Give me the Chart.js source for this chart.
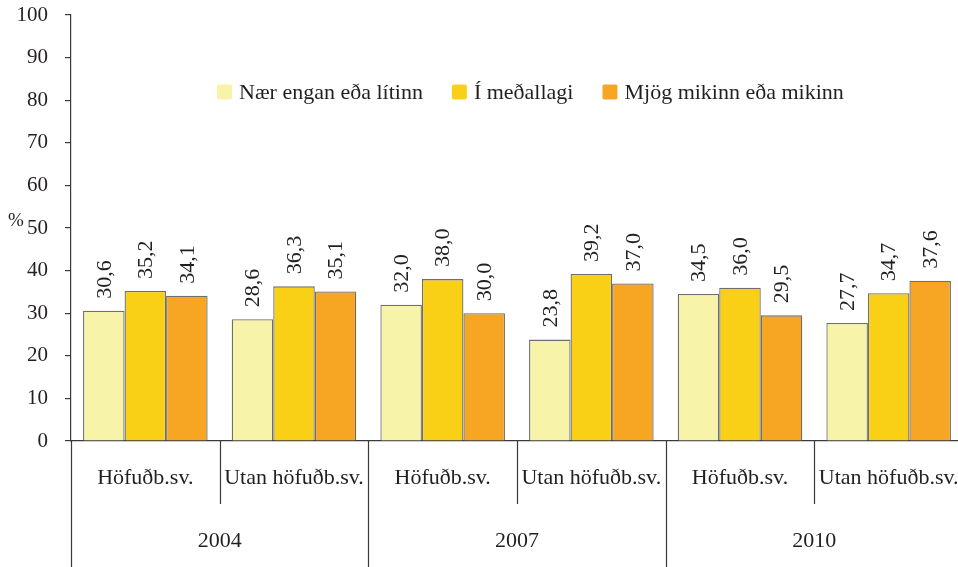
<!DOCTYPE html>
<html>
<head>
<meta charset="utf-8">
<script src="https://cdn.jsdelivr.net/npm/chart.js@4.4.1/dist/chart.umd.min.js"></script>
<style>
  html, body { margin: 0; padding: 0; background: #fff; overflow: hidden; }
  #wrap { width: 963px; height: 567px; position: relative; }
</style>
</head>
<body>
<div id="wrap"><canvas id="chart"></canvas></div>
<script>
// data
const subCategories = ['Höfuðb.sv.', 'Utan höfuðb.sv.', 'Höfuðb.sv.', 'Utan höfuðb.sv.', 'Höfuðb.sv.', 'Utan höfuðb.sv.'];
const years = ['2004', '2007', '2010'];
const seriesNames = ['Nær engan eða lítinn', 'Í meðallagi', 'Mjög mikinn eða mikinn'];
const lowValues = [30.6, 28.6, 32.0, 23.8, 34.5, 27.7];
const midValues = [35.2, 36.3, 38.0, 39.2, 36.0, 34.7];
const highValues = [34.1, 35.1, 30.0, 37.0, 29.5, 37.6];
const yTicks = [0, 10, 20, 30, 40, 50, 60, 70, 80, 90, 100];

const colors = ['#F7F3A9', '#FAD016', '#F6A623'];
const FONT = '"Liberation Serif", "Times New Roman", serif';
const TEXT = '#231f20';
const LINE = '#3a3a3a';

// rotated value labels above each bar
const valueLabels = {
  id: 'valueLabels',
  afterDatasetsDraw(chart) {
    const ctx = chart.ctx;
    ctx.save();
    ctx.font = '22px ' + FONT;
    ctx.fillStyle = TEXT;
    ctx.textAlign = 'left';
    ctx.textBaseline = 'middle';
    chart.data.datasets.forEach((ds, i) => {
      chart.getDatasetMeta(i).data.forEach((bar, j) => {
        const txt = ds.data[j].toFixed(1).replace('.', ',');
        ctx.save();
        ctx.translate(bar.x + 1, bar.y - 12);
        ctx.rotate(-Math.PI / 2);
        ctx.fillText(txt, 0, 0);
        ctx.restore();
      });
    });
    ctx.restore();
  }
};

// two-level x axis: separators and year row
const groupAxis = {
  id: 'groupAxis',
  afterDraw(chart) {
    const ctx = chart.ctx;
    const x = chart.scales.x;
    const area = chart.chartArea;
    const step = (area.right - area.left) / subCategories.length;
    const bottom = chart.height;
    ctx.save();
    ctx.strokeStyle = LINE;
    ctx.lineWidth = 1.2;
    for (let i = 0; i <= subCategories.length; i++) {
      const px = Math.round(area.left + i * step) + 0.5;
      const end = (i % 2 === 0) ? bottom : area.bottom + 63;
      ctx.beginPath();
      ctx.moveTo(px, area.bottom);
      ctx.lineTo(px, end);
      ctx.stroke();
    }
    ctx.font = '22px ' + FONT;
    ctx.fillStyle = TEXT;
    ctx.textAlign = 'center';
    ctx.textBaseline = 'middle';
    years.forEach((y, k) => {
      const cx = (x.getPixelForValue(2 * k) + x.getPixelForValue(2 * k + 1)) / 2;
      ctx.fillText(y, cx, area.bottom + 100);
    });
    // percent sign next to the 50 tick
    const yScale = chart.scales.y;
    ctx.font = '19px ' + FONT;
    ctx.textAlign = 'left';
    ctx.fillText('%', 8, yScale.getPixelForValue(50) - 7);
    ctx.restore();
  }
};

// legend drawn inside the plot area
const innerLegend = {
  id: 'innerLegend',
  afterDraw(chart) {
    const ctx = chart.ctx;
    const area = chart.chartArea;
    ctx.save();
    ctx.font = '22px ' + FONT;
    ctx.textBaseline = 'middle';
    const box = 15, gapText = 7, gapItem = 29;
    let cx = 217;
    const cy = area.top + 77;
    seriesNames.forEach((n, i) => {
      ctx.fillStyle = colors[i];
      ctx.beginPath();
      ctx.roundRect(cx, cy - box / 2, box, box, 2);
      ctx.fill();
      ctx.fillStyle = TEXT;
      ctx.textAlign = 'left';
      ctx.fillText(n, cx + box + gapText, cy + 1);
      cx += box + gapText + ctx.measureText(n).width + gapItem;
    });
    ctx.restore();
  }
};

new Chart(document.getElementById('chart'), {
  type: 'bar',
  data: {
    labels: subCategories,
    datasets: [
      { label: seriesNames[0], data: lowValues, backgroundColor: colors[0] },
      { label: seriesNames[1], data: midValues, backgroundColor: colors[1] },
      { label: seriesNames[2], data: highValues, backgroundColor: colors[2] }
    ].map(d => Object.assign(d, { borderColor: '#6e6e6e', borderWidth: 1.3, borderSkipped: 'bottom' }))
  },
  options: {
    responsive: true,
    maintainAspectRatio: false,
    animation: false,
    devicePixelRatio: 1,
    layout: { padding: { top: 15, right: 0, left: 0, bottom: 0 } },
    datasets: { bar: { categoryPercentage: 0.838, barPercentage: 1.0 } },
    plugins: {
      legend: { display: false },
      tooltip: { enabled: false }
    },
    scales: {
      x: {
        grid: { display: false, drawTicks: false },
        border: { display: true, color: LINE, width: 1.2 },
        ticks: { color: TEXT, font: { family: FONT, size: 22 }, padding: 24, maxRotation: 0, autoSkip: false },
        afterFit: s => { s.height = 126; s.paddingLeft = 0; s.paddingRight = 0; }
      },
      y: {
        min: 0,
        max: 100,
        afterBuildTicks: s => { s.ticks = yTicks.map(v => ({ value: v })); },
        grid: { drawOnChartArea: false, drawTicks: true, tickLength: 6, color: LINE, lineWidth: 1.2 },
        border: { display: true, color: LINE, width: 1.2 },
        ticks: { color: TEXT, font: { family: FONT, size: 21 }, padding: 17 },
        afterFit: s => { s.width = 71; s.paddingTop = 0; s.paddingBottom = 0; }
      }
    }
  },
  plugins: [valueLabels, groupAxis, innerLegend]
});
</script>
</body>
</html>
